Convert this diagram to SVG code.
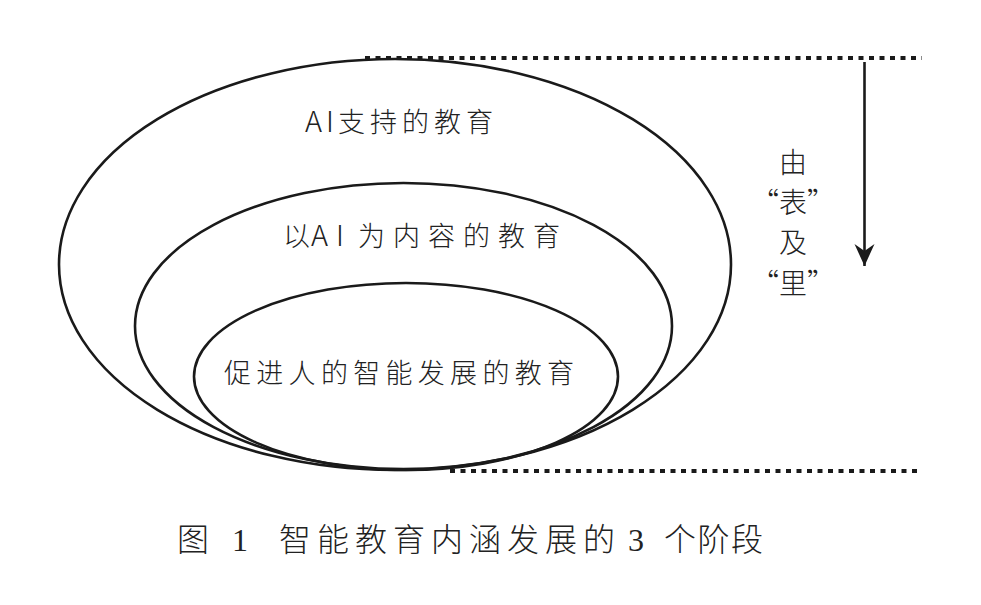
<svg xmlns="http://www.w3.org/2000/svg" width="981" height="605" viewBox="0 0 981 605">
<style>
.ring{fill:none;stroke:#1a1a1a;stroke-width:2.6}
.dot{fill:none;stroke:#1a1a1a;stroke-width:4;stroke-dasharray:5 5.5}
.lbl{font-family:"Noto Sans CJK SC","Liberation Sans",sans-serif;font-size:27px;fill:#222;font-weight:300}
.lat{font-size:29px}
.side{font-family:"Noto Sans CJK SC","Liberation Serif",serif;font-size:28px;fill:#222;font-weight:300;text-anchor:middle}
.cap{font-family:"Liberation Serif","Noto Sans CJK SC",serif;font-size:32px;fill:#222;font-weight:300}
</style>
<defs>
<marker id="ah" markerWidth="24" markerHeight="22" refX="22" refY="10" orient="auto" markerUnits="userSpaceOnUse">
<path d="M0,0 L7,10 L0,20 L22,10 Z" fill="#1a1a1a"/>
</marker>
</defs>
<rect width="981" height="605" fill="#fff"/>
<g id="outer">
<ellipse class="ring" cx="395" cy="264.5" rx="336" ry="205.5"/>
<text class="lbl" y="132"><tspan class="lat" x="305" letter-spacing="4">AI</tspan><tspan x="338" letter-spacing="5">支持的教育</tspan></text>
</g>
<g id="middle">
<ellipse class="ring" cx="403.5" cy="326" rx="268.5" ry="143"/>
<text class="lbl" y="246"><tspan x="283">以</tspan><tspan class="lat" x="311" letter-spacing="8">AI</tspan><tspan x="358" letter-spacing="8">为内容的教育</tspan></text>
</g>
<g id="inner">
<ellipse class="ring" cx="406" cy="376.5" rx="212" ry="93.5"/>
<text class="lbl" x="224" y="383" letter-spacing="5.3">促进人的智能发展的教育</text>
</g>
<g id="connectors">
<line class="dot" x1="365" y1="58" x2="922" y2="58"/>
<line class="dot" x1="450" y1="471" x2="922" y2="471"/>
<line x1="864.5" y1="62" x2="864.5" y2="266" stroke="#1a1a1a" stroke-width="2.6" marker-end="url(#ah)"/>
</g>
<g id="side-label">
<text class="side" x="793" y="173">由</text>
<text class="side" x="793" y="213">“表”</text>
<text class="side" x="793" y="253">及</text>
<text class="side" x="793" y="294">“里”</text>
</g>
<g id="caption">
<text class="cap" x="177" y="551">图</text>
<text class="cap" x="232" y="551">1</text>
<text class="cap" x="279" y="551" letter-spacing="6">智能教育内涵发展的</text>
<text class="cap" x="628" y="551">3</text>
<text class="cap" x="664" y="551" letter-spacing="1.5">个阶段</text>
</g>
</svg>
